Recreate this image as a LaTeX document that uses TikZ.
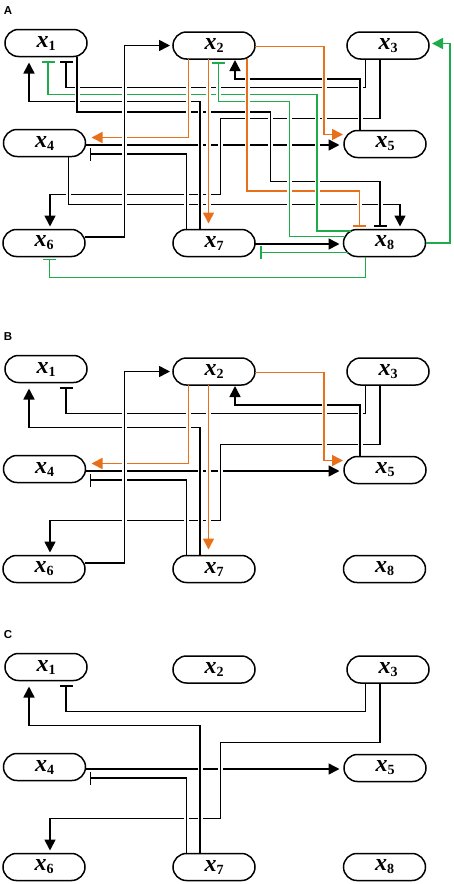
\documentclass[tikz,border=0pt]{standalone}
\usepackage{fontspec}
\setmainfont{Liberation Serif}
\newfontfamily\panelfont{Liberation Sans}
\usetikzlibrary{arrows.meta}
\definecolor{actorange}{RGB}{232,112,26}
\definecolor{inhgreen}{RGB}{30,172,75}
\tikzset{%
    gene/.style={%
        draw,%
        fill=white,%
        line width=1.5pt,%
        rounded corners=13.5pt,%
        minimum width=82pt,%
        minimum height=27pt,%
        inner sep=0pt,%
        outer sep=0pt,%
        font=\fontsize{24}{24}\selectfont\bfseries\itshape%
    },%
    panel/.style={%
        inner sep=0pt,%
        font=\panelfont\fontsize{11.5}{11.5}\selectfont\bfseries%
    },%
    act/.style={-{Triangle[length=11pt,width=11pt]},shorten >=3pt},%
    inh/.style={-{Bar[width=13pt]},shorten >=3pt},%
    ocol/.style={color=actorange},%
    gcol/.style={color=inhgreen},%
    vtop/.style={%
        shorten <=5pt,%
        shorten >=5pt,%
        preaction={draw=white,line width=5pt}%
    }%
}
\newcommand\gname[1]{x{\upshape\fontsize{14}{14}\selectfont\raisebox{-3pt}{#1}}}
\newcommand\genes{%
    \node[gene] (x1) at (46,43) {\gname1};
    \node[gene] (x2) at (214,45.5) {\gname2};
    \node[gene] (x3) at (388,45.5) {\gname3};
    \node[gene] (x4) at (44.5,143) {\gname4};
    \node[gene] (x5) at (385,144) {\gname5};
    \node[gene] (x6) at (44,243) {\gname6};
    \node[gene] (x7) at (214,243) {\gname7};
    \node[gene] (x8) at (384.5,243) {\gname8};
}
\newcommand\coreedges{%
    \draw[inh,shorten >=4.5pt] ([xshift=-22.5]x3.south) |- (66,87.5) -- ([xshift=20]x1.south);
    \draw[act,shorten >=6pt] ([xshift=-14]x7.north) |- (29,101.5) -- ([xshift=-17]x1.south);
    \draw[act] ([xshift=-8]x3.south) |- (220.5,118.5) |- (50,194.5) -- ([xshift=6]x6.north);
    \draw[act,shorten >=4.5pt] ([yshift=-2]x4.east) -- ([yshift=-1]x5.west);
    \draw[inh,shorten >=4pt] ([xshift=-27.5]x7.north) |- ([yshift=-11]x4.east);
}
\newcommand\midedges{%
    \draw[act] ([yshift=6]x6.east) -| ([xshift=-48.5]x2.west) -- (x2.west);
    \draw[act,shorten >=1pt] ([xshift=-25]x5.north) |- (235,79) -- ([xshift=21]x2.south);
    \draw[act,ocol,shorten >=6pt] ([xshift=-25.5]x2.south) |- ([yshift=5.5]x4.east);
    \draw[act,ocol,shorten >=6pt] ([xshift=-5.5]x2.south) -- ([xshift=-5.5]x7.north);
    \draw[act,ocol,shorten >=1pt] ([yshift=-1]x2.east) -| (324,134.5) -- ([yshift=9.5]x5.west);
}
\newcommand\fulledges{%
    \draw[inh] ([xshift=31]x1.south) |- (270.5,112) |- (380,181.5) -- ([xshift=-4.5]x8.north);
    \draw[act] ([xshift=24]x4.south) |- (400,204.5) -- ([xshift=15.5]x8.north);
    \draw[act,shorten >=4pt] ([yshift=-1]x7.east) -- ([yshift=-1]x8.west);
    \draw[inh,ocol] ([xshift=33]x2.south) |- (359.5,191) -- ([xshift=-25]x8.north);
    \draw[inh,gcol,shorten >=4.5pt] ([xshift=7,yshift=12]x8.west) -| (317,94.5) -| ([xshift=2]x1.south);
    \draw[inh,gcol] ([xshift=1.5,yshift=6.5]x8.west) -| (289.5,101.5) -| ([xshift=4.5]x2.south);
    \draw[act,gcol] (x8.east) -| ([xshift=21,yshift=2]x3.east) -- ([yshift=2]x3.east);
    \draw[inh,gcol,shorten >=2pt] ([xshift=-19]x8.south) |- (49.5,277.5) -- ([xshift=5.5]x6.south);
    \draw[inh,gcol,shorten >=5pt] ([xshift=4,yshift=-9.5]x8.west) -- ([yshift=-9.5]x7.east);
}
\newcommand\corevert{%
    \draw[vtop] (200,229.5) -- (200,101.5);
    \draw[vtop] (220.5,118.5) -- (220.5,194.5);
    \draw[vtop] (186.5,229.5) -- (186.5,154);
}
\newcommand\midvert{%
    \draw[vtop] (124.5,237) -- (124.5,45.5);
    \draw[vtop] (360,130.5) -- (360,79);
    \draw[vtop,ocol] (188.5,59) -- (188.5,137.5);
    \draw[vtop,ocol] (208.5,59) -- (208.5,212);
    \draw[vtop,ocol] (324,46.5) -- (324,134.5);
}
\newcommand\fullvert{%
    \draw[vtop] (77,56.5) -- (77,112);
    \draw[vtop] (270.5,112) -- (270.5,181.5);
    \draw[vtop] (380,181.5) -- (380,226.5);
    \draw[vtop] (68.5,156.5) -- (68.5,204.5);
    \draw[vtop,ocol] (247,59) -- (247,191);
    \draw[vtop,ocol] (359.5,191) -- (359.5,226.5);
    \draw[vtop,gcol] (317,231) -- (317,94.5);
    \draw[vtop,gcol] (289.5,236.5) -- (289.5,101.5);
    \draw[vtop,gcol] (218.5,101.5) -- (218.5,62);
}
\begin{document}
\begin{tikzpicture}[x=1pt,y=-1pt,line width=1.6pt]
    \useasboundingbox (0,0) rectangle (454,884);
    \begin{scope}[name prefix=a-]
        \node[panel] (tag) at (8,11) {A};
        \genes
        \coreedges
        \midedges
        \fulledges
        \corevert
        \midvert
        \fullvert
    \end{scope}
    \begin{scope}[yshift=-326pt,name prefix=b-]
        \node[panel] (tag) at (8,11) {B};
        \genes
        \coreedges
        \midedges
        \corevert
        \midvert
    \end{scope}
    \begin{scope}[yshift=-624pt,name prefix=c-]
        \node[panel] (tag) at (8,11) {C};
        \genes
        \coreedges
        \corevert
    \end{scope}
\end{tikzpicture}
\end{document}
